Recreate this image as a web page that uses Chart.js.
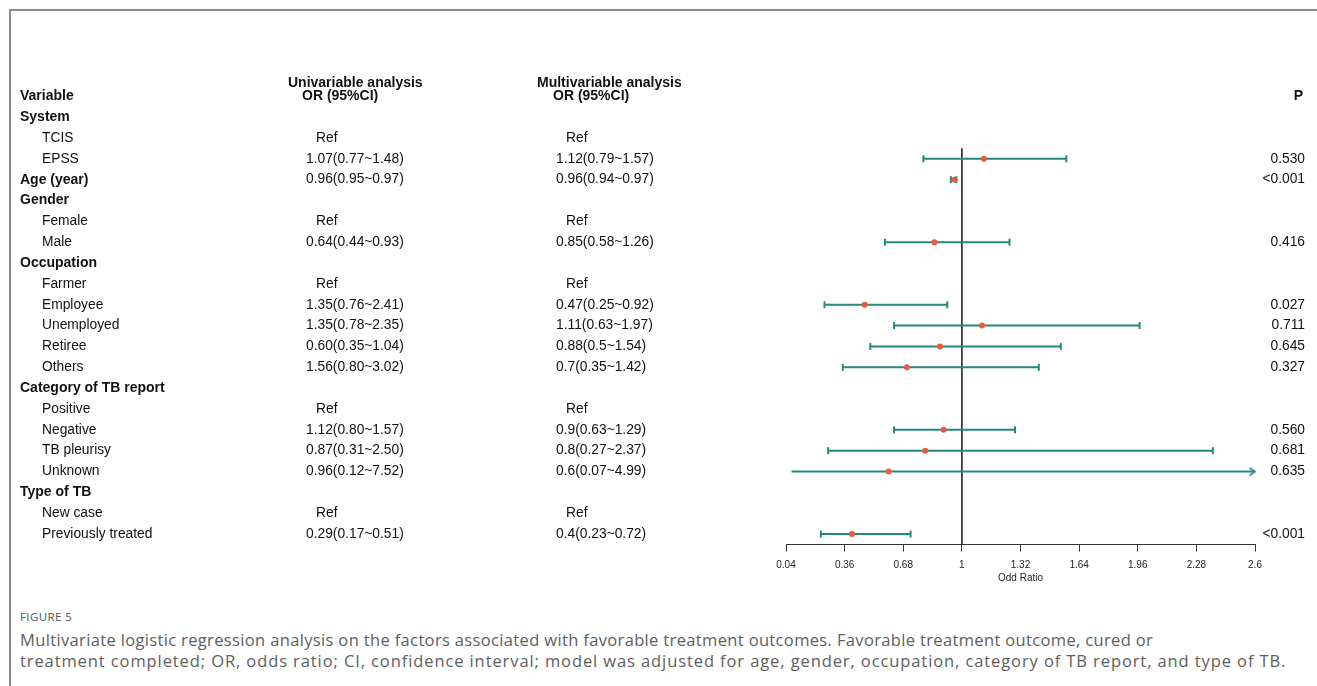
<!DOCTYPE html>
<html>
<head>
<meta charset="utf-8">
<script src="https://cdn.jsdelivr.net/npm/chart.js@4/dist/chart.umd.min.js"></script>
<style>
  html, body { margin: 0; padding: 0; background: #fff; }
  body { width: 1317px; height: 686px; position: relative; overflow: hidden; }
  #frame { position: absolute; left: 9px; top: 9px; right: 0; bottom: 0;
           border-top: 2px solid #8c8c8c; border-left: 2px solid #8c8c8c; }
  #wrap { position: absolute; left: 0; top: 0; width: 1317px; height: 600px; }
  #caption { position: absolute; left: 20px; top: 607px; font-family: "Open Sans", sans-serif; color: #5e5e5e; }
  #caption .fig { font-size: 11.5px; letter-spacing: 0.4px; line-height: 20px; color: #555; }
  #caption .txt { font-size: 16.5px; line-height: 21px; white-space: nowrap; letter-spacing: 0.35px; }
  #caption .l1 { margin-top: 2px; }
  #caption .l2 { letter-spacing: 0.9px; }
</style>
</head>
<body>
<div id="frame"></div>
<div id="wrap"><canvas id="forest" width="1317" height="600"></canvas></div>
<div id="caption">
  <div class="fig">FIGURE 5</div>
  <div class="txt l1">Multivariate logistic regression analysis on the factors associated with favorable treatment outcomes. Favorable treatment outcome, cured or</div>
  <div class="txt l2">treatment completed; OR, odds ratio; CI, confidence interval; model was adjusted for age, gender, occupation, category of TB report, and type of TB.</div>
</div>
<script>
// ---- table rows ----
const rowLabels = ['System', 'TCIS', 'EPSS', 'Age (year)', 'Gender', 'Female', 'Male',
  'Occupation', 'Farmer', 'Employee', 'Unemployed', 'Retiree', 'Others',
  'Category of TB report', 'Positive', 'Negative', 'TB pleurisy', 'Unknown',
  'Type of TB', 'New case', 'Previously treated'];
const rowIsGroup = [true, false, false, true, true, false, false,
  true, false, false, false, false, false,
  true, false, false, false, false,
  true, false, false];
const rowIsRef = [false, true, false, false, false, true, false,
  false, true, false, false, false, false,
  false, true, false, false, false,
  false, true, false];

// univariable analysis: OR and 95% CI
const uniOR   = [null, null, 1.07, 0.96, null, null, 0.64, null, null, 1.35, 1.35, 0.60, 1.56, null, null, 1.12, 0.87, 0.96, null, null, 0.29];
const uniLow  = [null, null, 0.77, 0.95, null, null, 0.44, null, null, 0.76, 0.78, 0.35, 0.80, null, null, 0.80, 0.31, 0.12, null, null, 0.17];
const uniHigh = [null, null, 1.48, 0.97, null, null, 0.93, null, null, 2.41, 2.35, 1.04, 3.02, null, null, 1.57, 2.50, 7.52, null, null, 0.51];

// multivariable analysis: OR and 95% CI (plotted)
const multiOR   = [null, null, 1.12, 0.96, null, null, 0.85, null, null, 0.47, 1.11, 0.88, 0.7, null, null, 0.9, 0.8, 0.6, null, null, 0.4];
const multiLow  = [null, null, 0.79, 0.94, null, null, 0.58, null, null, 0.25, 0.63, 0.5, 0.35, null, null, 0.63, 0.27, 0.07, null, null, 0.23];
const multiHigh = [null, null, 1.57, 0.97, null, null, 1.26, null, null, 0.92, 1.97, 1.54, 1.42, null, null, 1.29, 2.37, 4.99, null, null, 0.72];

const pValues = ['', '', '0.530', '<0.001', '', '', '0.416', '', '', '0.027', '0.711', '0.645', '0.327', '', '', '0.560', '0.681', '0.635', '', '', '<0.001'];

// x axis
const xTickValues = [0.04, 0.36, 0.68, 1, 1.32, 1.64, 1.96, 2.28, 2.6];
const xTickLabels = ['0.04', '0.36', '0.68', '1', '1.32', '1.64', '1.96', '2.28', '2.6'];
const xMin = 0.04, xMax = 2.6, refValue = 1;

const TEAL = '#23897f';
const RED = '#f0583c';
const FONT = '"Liberation Sans", Arial, Helvetica, sans-serif';

// open arrow head used when an interval runs past the axis
function makeArrow() {
  const c = document.createElement('canvas');
  c.width = 16; c.height = 10;
  const g = c.getContext('2d');
  g.strokeStyle = TEAL; g.lineWidth = 1.6; g.lineCap = 'round';
  g.beginPath(); g.moveTo(3, 1.5); g.lineTo(8, 5); g.lineTo(3, 8.5); g.stroke();
  return c;
}
const arrowHead = makeArrow();

// one line dataset per interval, with end caps
const ciDatasets = [];
multiOR.forEach((v, i) => {
  if (v === null) return;
  const lo = Math.max(multiLow[i], xMin);
  const hi = Math.min(multiHigh[i], xMax);
  const clipped = multiHigh[i] > xMax || multiLow[i] < xMin;
  ciDatasets.push({
    data: [{ x: lo, y: i }, { x: hi, y: i }],
    showLine: true,
    clip: false,
    borderColor: TEAL,
    borderWidth: 2,
    pointStyle: clipped ? ['line', arrowHead] : ['line', 'line'],
    pointRotation: clipped ? [90, 0] : 90,
    pointRadius: clipped ? [0, 4] : [3.5, 3.5],
    pointBorderColor: TEAL,
    pointBackgroundColor: TEAL,
    pointBorderWidth: 2,
    order: 1
  });
});

const pointData = [];
multiOR.forEach((v, i) => { if (v !== null) pointData.push({ x: v, y: i }); });

const fmt2 = v => v.toFixed(2);
function uniText(i) {
  if (rowIsRef[i]) return 'Ref';
  if (uniOR[i] === null) return '';
  return fmt2(uniOR[i]) + '(' + fmt2(uniLow[i]) + '~' + fmt2(uniHigh[i]) + ')';
}
function multiText(i) {
  if (rowIsRef[i]) return 'Ref';
  if (multiOR[i] === null) return '';
  return String(multiOR[i]) + '(' + String(multiLow[i]) + '~' + String(multiHigh[i]) + ')';
}

// table columns drawn alongside the plot, rows placed by the y scale
const tablePlugin = {
  id: 'forestTable',
  afterDraw(chart) {
    const ctx = chart.ctx;
    const y = chart.scales.y;
    ctx.save();
    ctx.fillStyle = '#111';
    ctx.textBaseline = 'middle';
    const bold = '700 14px ' + FONT;
    const reg = '400 13.8px ' + FONT;

    // header
    ctx.font = bold;
    ctx.textAlign = 'left';
    ctx.fillText('Variable', 20, y.getPixelForValue(-1));
    ctx.fillText('Univariable analysis', 288, y.getPixelForValue(-1.62));
    ctx.fillText('OR (95%CI)', 302, y.getPixelForValue(-1));
    ctx.fillText('Multivariable analysis', 537, y.getPixelForValue(-1.62));
    ctx.fillText('OR (95%CI)', 553, y.getPixelForValue(-1));
    ctx.textAlign = 'right';
    ctx.fillText('P', 1303, y.getPixelForValue(-1));

    rowLabels.forEach((lab, i) => {
      const py = y.getPixelForValue(i);
      ctx.textAlign = 'left';
      if (rowIsGroup[i]) { ctx.font = bold; ctx.fillText(lab, 20, py); }
      else { ctx.font = reg; ctx.fillText(lab, 42, py); }
      ctx.font = reg;
      const u = uniText(i), m = multiText(i);
      if (u) ctx.fillText(u, rowIsRef[i] ? 316 : 306, py);
      if (m) ctx.fillText(m, rowIsRef[i] ? 566 : 556, py);
      if (pValues[i]) { ctx.textAlign = 'right'; ctx.fillText(pValues[i], 1305, py); }
    });
    ctx.restore();
  }
};

new Chart(document.getElementById('forest'), {
  type: 'scatter',
  data: {
    datasets: [
      {
        data: pointData,
        pointStyle: 'circle',
        pointRadius: 3,
        pointBackgroundColor: RED,
        pointBorderColor: RED,
        pointBorderWidth: 0,
        order: 0
      },
      ...ciDatasets,
      {
        // reference line at OR = 1
        data: [{ x: refValue, y: 1.5 }, { x: refValue, y: 20.5 }],
        showLine: true,
        borderColor: '#333',
        borderWidth: 1,
        pointRadius: 0,
        order: 2
      }
    ]
  },
  options: {
    responsive: false,
    animation: false,
    events: [],
    layout: { padding: { left: 786, right: 62, top: 65, bottom: 15.5 } },
    plugins: { legend: { display: false }, tooltip: { enabled: false } },
    scales: {
      x: {
        type: 'linear',
        position: 'bottom',
        min: xMin,
        max: xMax,
        afterBuildTicks(scale) { scale.ticks = xTickValues.map(v => ({ value: v })); },
        afterFit(scale) { scale.height = 40; },
        ticks: {
          callback: (v) => xTickLabels[xTickValues.indexOf(v)] ?? '',
          font: { family: FONT, size: 10 },
          color: '#222',
          padding: 8,
          maxRotation: 0,
          autoSkip: false
        },
        grid: { drawOnChartArea: false, drawTicks: true, tickLength: 7, color: '#333', lineWidth: 1 },
        border: { display: true, color: '#333', width: 1 },
        title: { display: true, text: 'Odd Ratio', font: { family: FONT, size: 10 }, color: '#222', padding: { top: 0, bottom: 0 } }
      },
      y: {
        type: 'linear',
        display: false,
        reverse: true,
        min: -2.5,
        max: 20.5
      }
    }
  },
  plugins: [tablePlugin]
});
</script>
</body>
</html>
